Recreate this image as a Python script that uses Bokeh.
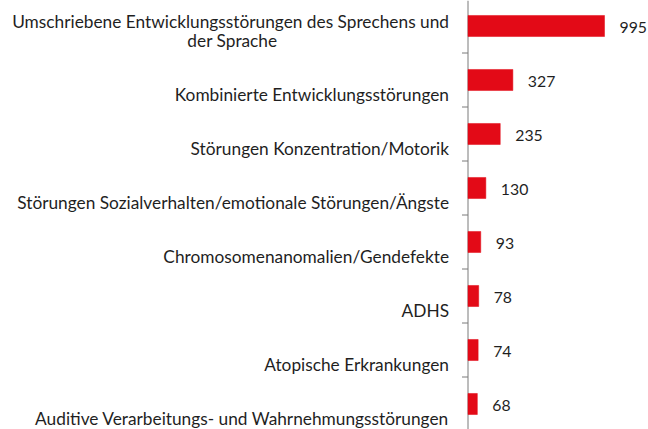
from bokeh.plotting import figure
from bokeh.models import ColumnDataSource, Range1d
from bokeh.core.properties import value
from bokeh.embed import file_html
from bokeh.resources import INLINE

# ---- data ----
categories = [
    "Umschriebene Entwicklungsstörungen des Sprechens und\nder Sprache",
    "Kombinierte Entwicklungsstörungen",
    "Störungen Konzentration/Motorik",
    "Störungen Sozialverhalten/emotionale Störungen/Ängste",
    "Chromosomenanomalien/Gendefekte",
    "ADHS",
    "Atopische Erkrankungen",
    "Auditive Verarbeitungs- und Wahrnehmungsstörungen",
]
counts = [995, 327, 235, 130, 93, 78, 74, 68]

# ---- layout constants ----
W, H = 648, 429
AXIS_PX = 467.5          # pixel position of the vertical axis line
PX_PER_UNIT = 0.1372     # horizontal scale
BAND_PX = 54.0           # category spacing in pixels
FIRST_CENTER_PX = 25.5   # centre of first bar from top

FONT = "Lato"
FONT_SIZE = "17.3px"
VALUE_FONT_SIZE = "15.8px"
TEXT_COLOR = "#1f1f1f"
BAR_COLOR = "#E30A17"
AXIS_COLOR = "#7a7a7a"

n = len(categories)
idx = list(range(n))

x_start = -AXIS_PX / PX_PER_UNIT
x_end = (W - AXIS_PX) / PX_PER_UNIT
y_top = -FIRST_CENTER_PX / BAND_PX
y_bottom = y_top + H / BAND_PX

p = figure(width=W, height=H, output_backend="svg", toolbar_location=None,
           x_range=Range1d(x_start, x_end), y_range=Range1d(y_bottom, y_top),
           x_axis_location=None, y_axis_location=None, min_border=0)
p.outline_line_color = None
p.xgrid.visible = False
p.ygrid.visible = False
p.background_fill_color = "white"
p.border_fill_color = "white"

# axis line and tick marks between categories
tick_y = [i + 0.5 for i in range(n - 1)]
tick_len = 6 / PX_PER_UNIT
p.segment(x0=[-tick_len] * len(tick_y), x1=[0] * len(tick_y), y0=tick_y, y1=tick_y,
          line_color=AXIS_COLOR, line_width=1)
p.segment(x0=[0], x1=[0], y0=[y_top], y1=[y_bottom], line_color=AXIS_COLOR, line_width=1)

# bars
src = ColumnDataSource(dict(y=idx, v=counts, lbl=[str(c) for c in counts]))
p.hbar(y="y", left=0, right="v", height=0.39, source=src,
       fill_color=BAR_COLOR, line_color=BAR_COLOR, line_width=0.5)

# value labels
p.text(x="v", y="y", text="lbl", source=src, x_offset=15, y_offset=1,
       text_align="left", text_baseline="middle",
       text_font=value(FONT), text_font_size=VALUE_FONT_SIZE, text_color=TEXT_COLOR)

# category labels: last line baseline-aligned below bar centre, earlier lines above
main_y, main_t, main_off = [], [], []
cont_y, cont_t = [], []
for i, cat in enumerate(categories):
    lines = cat.split("\n")
    if len(lines) == 1:
        main_y.append(i); main_t.append(lines[0]); main_off.append(14)
    else:
        main_y.append(i); main_t.append(lines[0]); main_off.append(-5)
        cont_y.append(i); cont_t.append(lines[1])

main_src = ColumnDataSource(dict(x=[0] * len(main_y), y=main_y, t=main_t, off=main_off))
p.text(x="x", y="y", text="t", source=main_src, x_offset=-19, y_offset="off",
       text_align="right", text_baseline="alphabetic",
       text_font=value(FONT), text_font_size=FONT_SIZE, text_color=TEXT_COLOR)

cont_src = ColumnDataSource(dict(x=[0] * len(cont_y), y=cont_y, t=cont_t))
p.text(x="x", y="y", text="t", source=cont_src, x_offset=-190.5, y_offset=14,
       text_align="right", text_baseline="alphabetic",
       text_font=value(FONT), text_font_size=FONT_SIZE, text_color=TEXT_COLOR)

open("out.html", "w").write(file_html(p, INLINE))
